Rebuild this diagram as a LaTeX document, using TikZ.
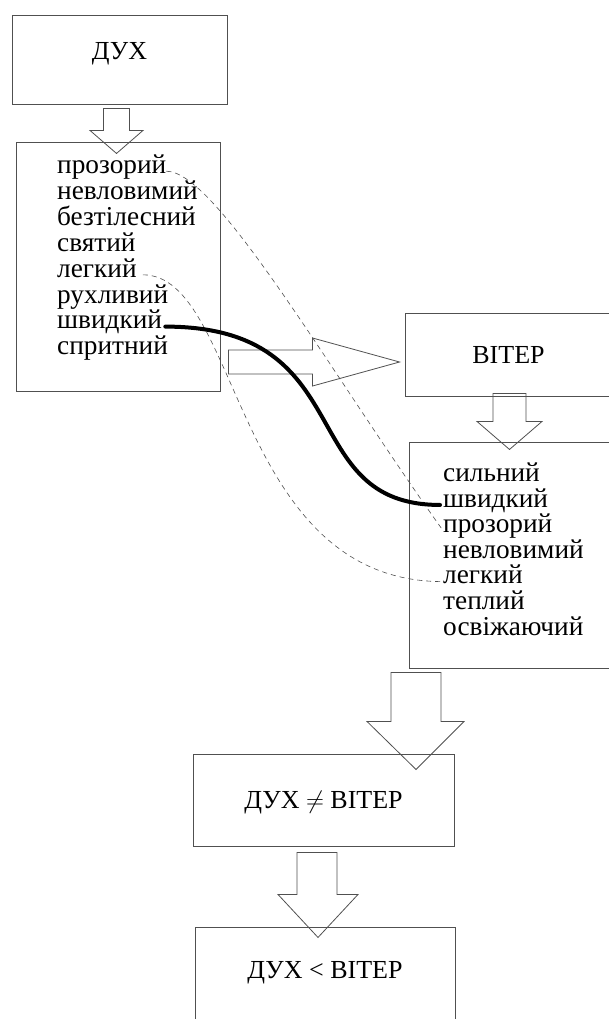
\documentclass[tikz,border=0pt]{standalone}
\usepackage{fontspec}
\setmainfont{Liberation Serif}

\definecolor{linegray}{RGB}{80,80,80}

\tikzset{
  box/.style={draw=linegray, line width=0.9pt, inner sep=0pt},
  title/.style={box, font=\fontsize{26}{30}\selectfont},
  word/.style={anchor=base west, inner sep=0pt, font=\fontsize{27.3}{28}\selectfont},
  fatarrow/.style={draw=linegray, line width=0.8pt, line join=miter},
  link/.style={draw=linegray, line width=0.6pt, dash pattern=on 5pt off 4pt},
  strong/.style={line width=4pt, line cap=round}
}

\begin{document}
\begin{tikzpicture}[x=1pt, y=-1pt]
\useasboundingbox (0,0) rectangle (609,1019);
\clip (0,0) rectangle (609,1019);

% boxes
\node[title, minimum width=215pt, text height=45pt, text depth=44pt] (dukh) at (119.5,59.5) {ДУХ};
\node[box, minimum width=204pt, minimum height=249pt] (dlist) at (118,266.5) {};
\node[title, minimum width=207pt, text height=50pt, text depth=33pt] (viter) at (508.5,354.5) {ВІТЕР};
\node[box, minimum width=203pt, minimum height=226pt] (vlist) at (510.5,555) {};
\node[title, minimum width=261pt, text height=54pt, text depth=38pt] (neq) at (323.5,800) {ДУХ $\neq$ ВІТЕР};
\node[title, minimum width=260pt, text height=51pt, text depth=59pt] (less) at (325,982) {ДУХ < ВІТЕР};

% words
\foreach \w [count=\i] in {прозорий,невловимий,безтілесний,святий,легкий,рухливий,швидкий,спритний}
  \node[word] (dw\i) at (57,{173.5+25.9*(\i-1)}) {\w};
\foreach \w [count=\i] in {сильний,швидкий,прозорий,невловимий,легкий,теплий,освіжаючий}
  \node[word] (vw\i) at (443,{481.7+25.55*(\i-1)}) {\w};

% block arrows
\draw[fatarrow, shift={(dukh.south)}] (-16,4) -- (10,4) -- (10,26) -- (23.5,26) -- (-3,49) -- (-29.5,26) -- (-16,26) -- cycle;
\draw[fatarrow, shift={(viter.west)}] (-176,-4.5) -- (-92,-4.5) -- (-92,-16.5) -- (-5,7.5) -- (-92,31.5) -- (-92,19.5) -- (-176,19.5) -- cycle;
\draw[fatarrow, shift={(viter.south)}] (-15.5,-3) -- (17.5,-3) -- (17.5,25) -- (33.5,25) -- (1,53) -- (-31.5,25) -- (-15.5,25) -- cycle;
\draw[fatarrow, shift={(vlist.south)}] (-119.5,4) -- (-69.5,4) -- (-69.5,53) -- (-46.5,53) -- (-94.5,101) -- (-143.5,53) -- (-119.5,53) -- cycle;
\draw[fatarrow, shift={(neq.south)}] (-26.5,6) -- (13.5,6) -- (13.5,48) -- (34.5,48) -- (-5.5,91) -- (-45.5,48) -- (-26.5,48) -- cycle;

% links between the lists
\draw[link] (dw1.mid east) .. controls +(50,0) and +(-113,-158) .. (vw3.mid west);
\draw[link, shorten <=6pt] (dw5.mid east) .. controls +(104,0) and +(-210,0) .. (vw5.mid west);
\draw[strong, shorten <=3pt, shorten >=3pt] (dw7.mid east) .. controls +(200,0) and +(-150,0) .. (vw2.mid west);
\end{tikzpicture}
\end{document}
